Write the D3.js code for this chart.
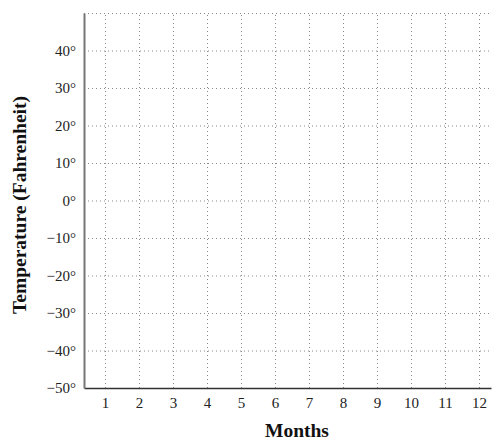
<!DOCTYPE html>
<html><head><meta charset="utf-8">
<script src="https://cdn.jsdelivr.net/npm/d3@7"></script>
<style>body{margin:0;background:#fff}svg{display:block}</style>
</head><body>
<svg id="c" width="492" height="441"></svg>
<script>
const months = [1,2,3,4,5,6,7,8,9,10,11,12];
const tempTicks = [-50,-40,-30,-20,-10,0,10,20,30,40];
const gridTemps = [-40,-30,-20,-10,0,10,20,30,40,50];
const xTitle = "Months";
const yTitle = "Temperature (Fahrenheit)";

const svg = d3.select("#c");
const L = 84, R = 491, T = 13, B = 388;
const x = d3.scaleLinear().domain([0.382, 12.35]).range([L, R]);
const y = d3.scaleLinear().domain([-50, 50]).range([B, T]);
const font = "'Liberation Serif', 'DejaVu Serif', serif";

// grid
svg.append("g").selectAll("line.h").data(gridTemps).join("line")
  .attr("x1", L).attr("x2", R).attr("y1", d => y(d)+0.5).attr("y2", d => y(d)+0.5)
  .attr("stroke", "#888").attr("stroke-width", 1).attr("stroke-dasharray", "1,3");
svg.append("g").selectAll("line.v").data(months).join("line")
  .attr("x1", d => Math.round(x(d))+0.5).attr("x2", d => Math.round(x(d))+0.5)
  .attr("y1", B).attr("y2", T)
  .attr("stroke", "#888").attr("stroke-width", 1).attr("stroke-dasharray", "1,3");

// axes
const xAxis = d3.axisBottom(x).tickValues(months).tickSize(0).tickPadding(9).tickFormat(d3.format("d"));
const gx = svg.append("g").attr("transform", `translate(0,${B})`).call(xAxis);
gx.select(".domain").attr("stroke", "#333").attr("stroke-width", 1.5);
gx.selectAll("text").attr("font-family", font).attr("font-size", 15).attr("fill", "#222");

const yAxis = d3.axisLeft(y).tickValues(tempTicks).tickSize(0).tickPadding(8)
  .tickFormat(d => (d < 0 ? "\u2212" + Math.abs(d) : d) + "°");
const gy = svg.append("g").attr("transform", `translate(${L},0)`).call(yAxis);
gy.select(".domain").attr("stroke", "#777").attr("stroke-width", 2);
gy.selectAll("text").attr("font-family", font).attr("font-size", 15).attr("fill", "#222");

// titles
svg.append("text").attr("x", 297).attr("y", 437).attr("text-anchor", "middle")
  .attr("font-family", font).attr("font-weight", "bold").attr("font-size", 19.5).attr("fill", "#111").text(xTitle);
svg.append("text").attr("transform", "translate(26,205) rotate(-90)").attr("text-anchor", "middle")
  .attr("font-family", font).attr("font-weight", "bold").attr("font-size", 19.5).attr("fill", "#111").text(yTitle);
</script>
</body></html>
